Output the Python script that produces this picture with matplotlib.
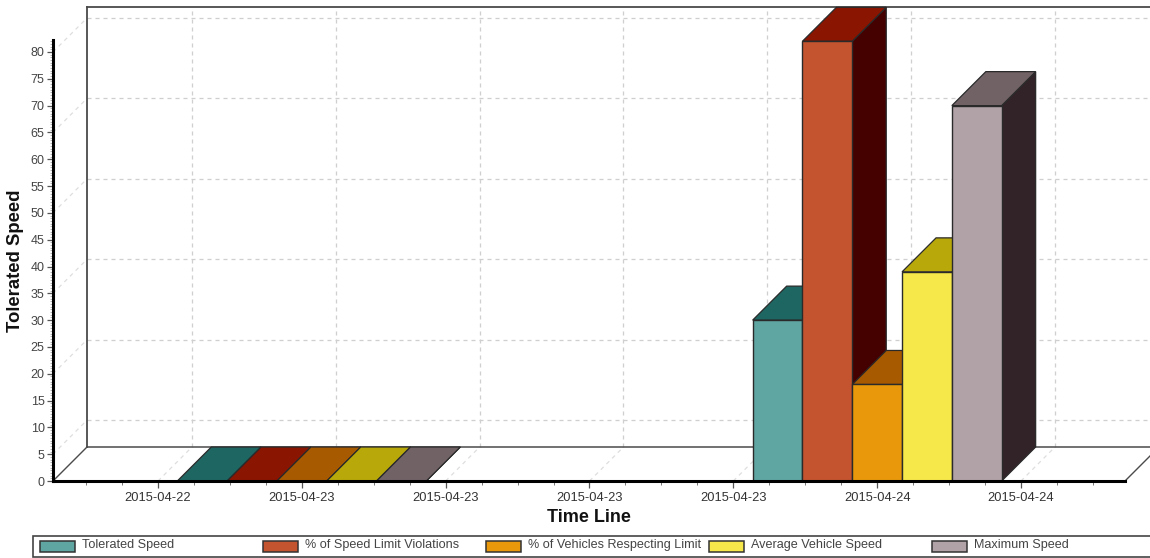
import matplotlib
matplotlib.use("Agg")
import matplotlib.pyplot as plt
import numpy as np
from matplotlib.patches import Polygon, Rectangle

plt.rcParams['font.family'] = ['Liberation Sans', 'DejaVu Sans']

time_labels = ['2015-04-22', '2015-04-23', '2015-04-23', '2015-04-23',
               '2015-04-23', '2015-04-24', '2015-04-24']
series_names = ['Tolerated Speed', '% of Speed Limit Violations',
                '% of Vehicles Respecting Limit', 'Average Vehicle Speed',
                'Maximum Speed']
# one row per time position that has bars
group_positions = [1, 5]
group_values = [[0, 0, 0, 0, 0],
                [30, 82, 18, 39, 70]]

front_colors = ['#5FA6A2', '#C4542F', '#E8980A', '#F6E84A', '#B0A2A6']
top_colors = ['#1E6662', '#8A1500', '#A85A00', '#B8A80A', '#716266']
side_colors = ['#0F3A38', '#450000', '#5E3200', '#6A6000', '#322328']
grid_values = [5, 20, 35, 50, 65, 80]

W, H = 1150, 558
left, right, bottom, top = 53, 1159, 481, 7
px_per_x = 143.83
px_per_y = 5.3625
depth = 34

fig = plt.figure(figsize=(W / 100, H / 100), dpi=100)
ax = fig.add_axes([left / W, 1 - bottom / H, (right - left) / W, (bottom - top) / H])
x0 = (left - 158) / px_per_x
x_end = (1125 - 158) / px_per_x
ax.set_xlim(x0, (right - 158) / px_per_x)
ax.set_ylim(0, (bottom - top) / px_per_y)
dx = depth / px_per_x
dy = depth / px_per_y
bar_w = 49.8 / px_per_x

wall = '#4A4A4A'
grid = '#CFCFCF'
grid_side = '#DEDEDE'
x_back = x0 + dx
top_y = ax.get_ylim()[1]
x_right = ax.get_xlim()[1]

# back wall and floor outline
ax.plot([x_back, x_back], [dy, top_y], color=wall, lw=1.3, zorder=2, clip_on=False)
ax.plot([x_back, x_right], [top_y, top_y], color=wall, lw=1.3, zorder=2, clip_on=False)
ax.plot([x_back, x_right], [dy, dy], color=wall, lw=1.1, zorder=2)
ax.plot([x0, x_back], [0, dy], color=wall, lw=1.0, zorder=2)
ax.plot([x_end, x_end + dx], [0, dy], color=wall, lw=1.0, zorder=2)

# dashed grid, on the back wall and running down the side wall and floor
dash = (0, (3.2, 3.2))
for v in grid_values:
    ax.plot([x_back, x_right], [v + dy, v + dy], color=grid, lw=0.9, ls=dash, zorder=1)
    ax.plot([x0, x_back], [v, v + dy], color=grid_side, lw=0.9, ls=dash, zorder=1)
for i in range(len(time_labels)):
    ax.plot([i + dx, i + dx], [dy, top_y], color=grid, lw=0.9, ls=dash, zorder=1)
    ax.plot([i, i + dx], [0, dy], color=grid_side, lw=0.9, ls=dash, zorder=1)

# 3d bars, left to right so each one hides the side of the one before
z = 3
edge = '#2A2A2A'
for pos, values in zip(group_positions, group_values):
    start = pos - bar_w * len(values) / 2
    for k, v in enumerate(values):
        xl = start + k * bar_w
        xr = xl + bar_w
        ax.add_patch(Polygon([(xr, 0), (xr + dx, dy), (xr + dx, v + dy), (xr, v)],
                             fc=side_colors[k], ec=edge, lw=0.9, zorder=z, clip_on=False))
        ax.add_patch(Polygon([(xl, v), (xr, v), (xr + dx, v + dy), (xl + dx, v + dy)],
                             fc=top_colors[k], ec=edge, lw=0.9, zorder=z, clip_on=False))
        if v > 0:
            ax.bar(xl, v, bar_w, align='edge', color=front_colors[k],
                   edgecolor=edge, linewidth=1.0, zorder=z)
        z += 1

for s in ['top', 'right']:
    ax.spines[s].set_visible(False)
ax.patch.set_alpha(0)
ax.spines['left'].set_linewidth(2.2)
ax.spines['left'].set_bounds(0, 82.2)
ax.spines['left'].set_zorder(30)
ax.spines['bottom'].set_linewidth(2.2)
ax.spines['bottom'].set_bounds(x0, x_end)
ax.spines['bottom'].set_zorder(30)

ax.set_xticks(range(len(time_labels)))
ax.set_xticklabels(time_labels, fontsize=9.3, color='#333333')
ax.set_xticks(np.arange(-0.5, 6.75, 0.25), minor=True)
ax.set_yticks(range(0, 85, 5))
ax.set_yticks(np.arange(0, 82.5, 0.5), minor=True)
ax.tick_params(axis='y', which='major', length=4, width=0.9, color='#555555',
               labelsize=9, labelcolor='#444444', pad=2)
ax.tick_params(axis='y', which='minor', length=2, width=0.5, color='#999999')
ax.tick_params(axis='x', which='major', length=5, width=0.9, color='#555555', pad=3)
ax.tick_params(axis='x', which='minor', length=3, width=0.7, color='#777777')

fig.text(16 / W, 1 - 261 / H, 'Tolerated Speed', rotation=90, fontsize=13.3,
         fontweight='bold', ha='center', va='center', color='#111111')
fig.text(589 / W, 1 - 517 / H, 'Time Line', fontsize=13, fontweight='bold',
         ha='center', va='center', color='#111111')

# legend strip, laid out in pixels
leg = fig.add_axes([0, 0, 1, 1])
leg.set_xlim(0, W)
leg.set_ylim(H, 0)
leg.axis('off')
leg.patch.set_alpha(0)
leg.add_patch(Rectangle((33, 536), 1140, 21, fc='white', ec='#444444', lw=1.2))
for k, name in enumerate(series_names):
    x = 40 + k * 223
    leg.add_patch(Rectangle((x, 540.5), 35, 11, fc=front_colors[k], ec='#333333', lw=1.1))
    leg.text(x + 42, 545, name, fontsize=9.1, color='#444444', va='center', ha='left')

fig.savefig('out.png', dpi=100)
